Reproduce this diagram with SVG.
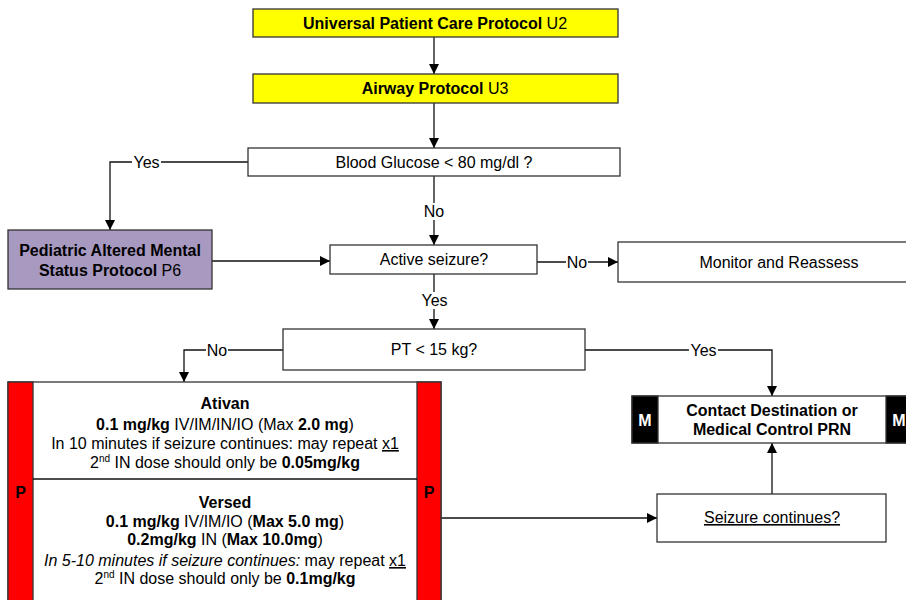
<svg xmlns="http://www.w3.org/2000/svg" width="906" height="600" viewBox="0 0 906 600">
  <style>
    text { font-family: "Liberation Sans", Arial, sans-serif; font-size: 16px; fill: #000; }
    .c { text-anchor: middle; }
    .b { font-weight: bold; }
    .box { fill: #fff; stroke: #333; stroke-width: 1.3; }
    .yel { fill: #ffff00; stroke: #333; stroke-width: 1.3; }
    .pur { fill: #a899c0; stroke: #333; stroke-width: 1.3; }
    .red { fill: #ff0000; stroke: #333; stroke-width: 1.3; }
    .blk { fill: #000; stroke: #333; stroke-width: 1.3; }
    .ln { fill: none; stroke: #111; stroke-width: 1.3; }
    .arr { fill: none; stroke: #111; stroke-width: 1.3; marker-end: url(#ah); }
    .lbl { text-anchor: middle; }
    .lblbg { fill: #fff; }
    .wl { fill: #fff; font-weight: bold; text-anchor: middle; }
    .sup { font-size: 10px; }
  </style>
  <defs>
    <marker id="ah" viewBox="0 0 10 10" refX="10" refY="5" markerWidth="10" markerHeight="10" markerUnits="userSpaceOnUse" orient="auto">
      <path d="M0,0 L10,5 L0,10 z" fill="#000"/>
    </marker>
  </defs>

  <rect width="906" height="600" fill="#fff"/>

  <!-- connectors -->
  <g id="connectors">
    <path class="arr" d="M434,37 V74"/>
    <path class="arr" d="M434,103 V148"/>
    <path class="arr" d="M248,162 H110 V230"/>
    <path class="arr" d="M434,176 V245"/>
    <path class="arr" d="M212,261 H330"/>
    <path class="arr" d="M537,262 H618"/>
    <path class="arr" d="M434,274 V329"/>
    <path class="arr" d="M283,350 H184 V382"/>
    <path class="arr" d="M585,350 H772 V396"/>
    <path class="arr" d="M441,518 H657"/>
    <path class="arr" d="M772,494 V443"/>
    <!-- edge labels -->
    <rect class="lblbg" x="132" y="154" width="29" height="17"/>
    <text class="lbl" x="146.5" y="168">Yes</text>
    <rect class="lblbg" x="423" y="203" width="22" height="17"/>
    <text class="lbl" x="434" y="217">No</text>
    <rect class="lblbg" x="566" y="254" width="22" height="17"/>
    <text class="lbl" x="577" y="268">No</text>
    <rect class="lblbg" x="420" y="292" width="29" height="17"/>
    <text class="lbl" x="434.5" y="306">Yes</text>
    <rect class="lblbg" x="206" y="342" width="22" height="17"/>
    <text class="lbl" x="217" y="356">No</text>
    <rect class="lblbg" x="689" y="342" width="29" height="17"/>
    <text class="lbl" x="703.5" y="356">Yes</text>
  </g>

  <g id="universal">
    <rect class="yel" x="253" y="9" width="365" height="28"/>
    <text class="c" x="435" y="29"><tspan class="b">Universal Patient Care Protocol</tspan> U2</text>
  </g>

  <g id="airway">
    <rect class="yel" x="253" y="74" width="365" height="29"/>
    <text class="c" x="435" y="94"><tspan class="b">Airway Protocol</tspan> U3</text>
  </g>

  <g id="glucose">
    <rect class="box" x="248" y="148" width="372" height="28"/>
    <text class="c" x="434" y="168">Blood Glucose &lt; 80 mg/dl ?</text>
  </g>

  <g id="altered">
    <rect class="pur" x="8" y="230" width="204" height="59"/>
    <text class="c b" x="110" y="256">Pediatric Altered Mental</text>
    <text class="c" x="110" y="276"><tspan class="b">Status Protocol</tspan> P6</text>
  </g>

  <g id="seizure">
    <rect class="box" x="330" y="245" width="207" height="29"/>
    <text class="c" x="434" y="265">Active seizure?</text>
  </g>

  <g id="monitor">
    <rect class="box" x="618" y="242" width="290" height="40"/>
    <text class="c" x="779" y="268">Monitor and Reassess</text>
  </g>

  <g id="weight">
    <rect class="box" x="283" y="329" width="302" height="41"/>
    <text class="c" x="434" y="355">PT &lt; 15 kg?</text>
  </g>

  <g id="meds">
    <rect class="box" x="8" y="382" width="433" height="230"/>
    <rect class="red" x="8" y="382" width="25" height="230"/>
    <rect class="red" x="417" y="382" width="24" height="230"/>
    <line class="ln" x1="33" y1="479" x2="417" y2="479"/>
    <text class="b c" x="20.5" y="498">P</text>
    <text class="b c" x="429" y="498">P</text>
    <text class="c b" x="225" y="409">Ativan</text>
    <text class="c" x="225" y="430"><tspan class="b">0.1 mg/kg</tspan> IV/IM/IN/IO (Max <tspan class="b">2.0 mg</tspan>)</text>
    <text class="c" x="225" y="449">In 10 minutes if seizure continues: may repeat <tspan text-decoration="underline">x1</tspan></text>
    <text class="c" x="225" y="468">2<tspan class="sup" dy="-6">nd</tspan><tspan dy="6"> IN dose should only be </tspan><tspan class="b">0.05mg/kg</tspan></text>
    <text class="c b" x="225" y="508">Versed</text>
    <text class="c" x="225" y="527"><tspan class="b">0.1 mg/kg</tspan> IV/IM/IO (<tspan class="b">Max 5.0 mg</tspan>)</text>
    <text class="c" x="225" y="545"><tspan class="b">0.2mg/kg</tspan> IN (<tspan class="b">Max 10.0mg</tspan>)</text>
    <text class="c" x="225" y="566"><tspan font-style="italic">In 5-10 minutes if seizure continues:</tspan> may repeat <tspan text-decoration="underline">x1</tspan></text>
    <text class="c" x="225" y="584">2<tspan class="sup" dy="-6">nd</tspan><tspan dy="6"> IN dose should only be </tspan><tspan class="b">0.1mg/kg</tspan></text>
  </g>

  <g id="contact">
    <rect class="box" x="632" y="396" width="280" height="47"/>
    <rect class="blk" x="632" y="396" width="26" height="47"/>
    <rect class="blk" x="886" y="396" width="26" height="47"/>
    <text class="wl" x="645" y="426">M</text>
    <text class="wl" x="899" y="426">M</text>
    <text class="c b" x="772" y="416">Contact Destination or</text>
    <text class="c b" x="772" y="435">Medical Control PRN</text>
  </g>

  <g id="continues">
    <rect class="box" x="657" y="494" width="229" height="48"/>
    <text class="c" x="772" y="523" text-decoration="underline">Seizure continues?</text>
  </g>
</svg>
